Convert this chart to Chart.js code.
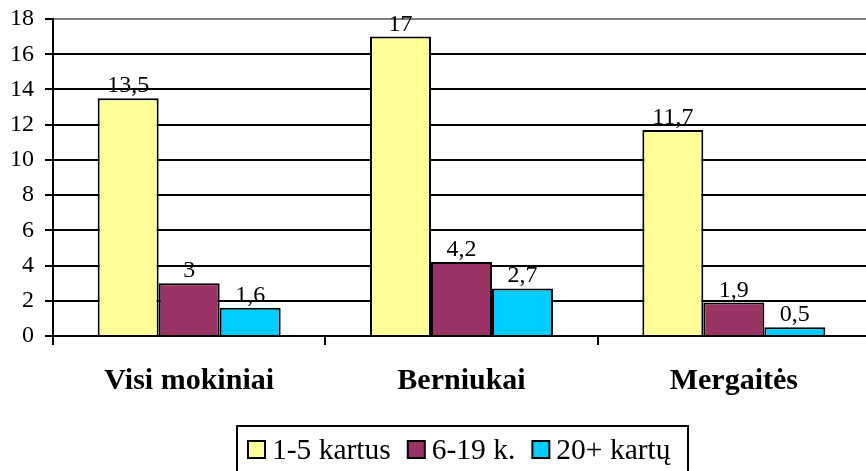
<!DOCTYPE html>
<html>
<head>
<meta charset="utf-8">
<script src="https://cdn.jsdelivr.net/npm/chart.js@4/dist/chart.umd.min.js"></script>
<style>
  html, body { margin: 0; padding: 0; background: #fff; overflow: hidden; }
  #wrap { width: 872px; height: 471px; }
</style>
</head>
<body>
<div id="wrap"><canvas id="chart" width="872" height="471"></canvas></div>
<script>
const categories = ['Visi mokiniai', 'Berniukai', 'Mergaitės'];
const seriesNames = ['1-5 kartus', '6-19 k.', '20+ kartų'];
const seriesColors = ['#FFFF99', '#993366', '#00CCFF'];
const onceToFive = [13.5, 17, 11.7];
const sixToNineteen = [3, 4.2, 1.9];
const twentyPlus = [1.6, 2.7, 0.5];
const yTicks = [0, 2, 4, 6, 8, 10, 12, 14, 16, 18];

const serif = '"Times New Roman", "Liberation Serif", Times, serif';

function fmt(v) {
    return String(v).replace('.', ',');
}

// value labels above each bar
const valueLabels = {
    id: 'valueLabels',
    afterDatasetsDraw(chart) {
        const ctx = chart.ctx;
        ctx.save();
        ctx.font = 'normal 24px ' + serif;
        ctx.fillStyle = '#000';
        ctx.textAlign = 'center';
        ctx.textBaseline = 'alphabetic';
        chart.data.datasets.forEach((ds, i) => {
            chart.getDatasetMeta(i).data.forEach((bar, j) => {
                ctx.fillText(fmt(ds.data[j]), bar.x, bar.y - 6);
            });
        });
        ctx.restore();
    }
};

// boxed legend under the chart
const boxLegend = {
    id: 'boxLegend',
    afterDraw(chart) {
        const ctx = chart.ctx;
        ctx.save();
        ctx.lineWidth = 2;
        ctx.strokeStyle = '#000';
        ctx.strokeRect(237, 426, 451, 60);
        ctx.font = 'normal 29.5px ' + serif;
        ctx.textBaseline = 'alphabetic';
        let x = 248;
        chart.data.datasets.forEach(ds => {
            ctx.fillStyle = ds.backgroundColor;
            ctx.fillRect(x, 441, 17, 17);
            ctx.strokeRect(x, 441, 17, 17);
            ctx.fillStyle = '#000';
            ctx.fillText(ds.label, x + 24, 459);
            x += 24 + ctx.measureText(ds.label).width + 17;
        });
        ctx.restore();
    }
};

const data = {
    labels: categories,
    datasets: [onceToFive, sixToNineteen, twentyPlus].map((vals, i) => ({
        label: seriesNames[i],
        data: vals,
        backgroundColor: seriesColors[i],
        borderColor: '#000',
        borderWidth: 2,
        categoryPercentage: 0.672,
        barPercentage: 1
    }))
};

function noPad(scale) {
    scale.paddingTop = 0;
    scale.paddingBottom = 0;
    scale.paddingLeft = 0;
    scale.paddingRight = 0;
}

const config = {
    type: 'bar',
    data: data,
    options: {
        responsive: false,
        animation: false,
        layout: { padding: { top: 19, right: 2, bottom: 0, left: 0 } },
        plugins: {
            legend: { display: false },
            tooltip: { enabled: false }
        },
        scales: {
            x: {
                afterFit(scale) { scale.height = 135; noPad(scale); },
                grid: {
                    display: true,
                    drawOnChartArea: false,
                    offset: true,
                    color: '#000',
                    lineWidth: 2,
                    tickLength: 9
                },
                border: { display: true, color: '#000', width: 2 },
                ticks: {
                    color: '#000',
                    padding: 18,
                    font: { family: serif, size: 30, weight: 'bold' }
                }
            },
            y: {
                min: 0,
                max: 18,
                afterFit(scale) { scale.width = 53; noPad(scale); },
                afterBuildTicks(scale) {
                    scale.ticks = yTicks.map(v => ({ value: v }));
                },
                grid: {
                    color: c => (c.tick && c.tick.value === 18) ? '#808080' : '#000',
                    tickColor: '#000',
                    lineWidth: 2,
                    tickLength: 8
                },
                border: { display: true, color: '#000', width: 2 },
                ticks: {
                    color: '#000',
                    padding: 11,
                    font: { family: serif, size: 24, weight: 'normal' }
                }
            }
        }
    },
    plugins: [valueLabels, boxLegend]
};

new Chart(document.getElementById('chart'), config);
</script>
</body>
</html>
